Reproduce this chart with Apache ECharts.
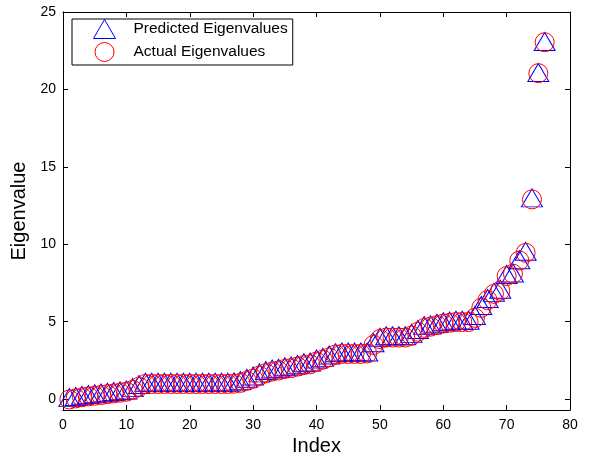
<!DOCTYPE html>
<html>
<head>
<meta charset="utf-8">
<script src="https://cdn.jsdelivr.net/npm/echarts@6/dist/echarts.min.js"></script>
<style>
  html, body { margin: 0; padding: 0; background: #fff; }
  #chart { width: 589px; height: 457px; }
</style>
</head>
<body>
<div id="chart"></div>
<script>
// Eigenvalue index (1..76)
const indices = [
  1, 2, 3, 4, 5, 6, 7, 8, 9, 10, 11, 12, 13, 14, 15, 16, 17, 18, 19, 20,
  21, 22, 23, 24, 25, 26, 27, 28, 29, 30, 31, 32, 33, 34, 35, 36, 37, 38, 39, 40,
  41, 42, 43, 44, 45, 46, 47, 48, 49, 50, 51, 52, 53, 54, 55, 56, 57, 58, 59, 60,
  61, 62, 63, 64, 65, 66, 67, 68, 69, 70, 71, 72, 73, 74, 75, 76
];

// Predicted eigenvalues (sorted ascending)
const predicted = [
  0.00, 0.08, 0.15, 0.20, 0.25, 0.30, 0.35, 0.40, 0.45, 0.50, 0.65, 0.85, 1.00, 1.00, 1.00, 1.00, 1.00, 1.00, 1.00, 1.00,
  1.00, 1.00, 1.00, 1.00, 1.00, 1.00, 1.02, 1.10, 1.25, 1.40, 1.60, 1.75, 1.85, 1.90, 2.00, 2.05, 2.15, 2.25, 2.30, 2.50,
  2.60, 2.75, 2.90, 2.95, 2.95, 2.95, 2.95, 2.95, 3.55, 3.90, 4.00, 4.00, 4.00, 4.00, 4.15, 4.40, 4.65, 4.70, 4.80, 4.90,
  4.95, 5.00, 5.00, 5.00, 5.30, 5.95, 6.40, 6.80, 7.00, 7.95, 8.05, 8.90, 9.45, 12.90, 21.00, 23.00
];

// Actual eigenvalues (sorted ascending)
const actual = [
  -0.02, 0.05, 0.12, 0.18, 0.22, 0.27, 0.32, 0.37, 0.42, 0.48, 0.60, 0.80, 0.98, 0.98, 0.98, 0.98, 0.98, 0.98, 0.98, 0.98,
  0.98, 0.98, 0.98, 0.98, 0.98, 0.98, 1.00, 1.05, 1.18, 1.32, 1.52, 1.68, 1.78, 1.85, 1.95, 2.00, 2.10, 2.20, 2.25, 2.42,
  2.55, 2.70, 2.88, 2.92, 2.92, 2.92, 2.92, 2.95, 3.50, 3.88, 3.98, 3.98, 3.98, 3.98, 4.10, 4.35, 4.60, 4.68, 4.78, 4.88,
  4.93, 4.98, 4.98, 4.98, 5.25, 5.90, 6.40, 6.80, 7.00, 7.95, 8.10, 8.95, 9.45, 12.90, 21.05, 23.05
];

// Axis tick values
const xTicks = [0, 10, 20, 30, 40, 50, 60, 70, 80];
const yTicks = [0, 5, 10, 15, 20, 25];

const FONT = '"Liberation Sans", Arial, Helvetica, sans-serif';
const BLUE = '#0000ff';
const RED = '#ff0000';

const predictedPts = indices.map((x, i) => [x, predicted[i]]);
const actualPts = indices.map((x, i) => [x, actual[i]]);

const boxAxisX = (position, showLabel, name) => ({
  type: 'value',
  position: position,
  min: 0,
  max: 80,
  interval: 10,
  name: name,
  nameLocation: 'middle',
  nameGap: 26,
  nameTextStyle: { color: '#000', fontFamily: FONT, fontSize: 20 },
  axisLine: { show: true, onZero: false, lineStyle: { color: '#000', width: 1 } },
  axisTick: { show: true, inside: true, length: 5, customValues: xTicks, lineStyle: { color: '#000' } },
  axisLabel: { show: showLabel, color: '#000', fontFamily: FONT, fontSize: 14, margin: 8, customValues: xTicks },
  splitLine: { show: false }
});

const boxAxisY = (position, showLabel, name) => ({
  type: 'value',
  position: position,
  min: -0.7,
  max: 25,
  name: name,
  nameLocation: 'middle',
  nameGap: 23,
  nameRotate: 90,
  nameTextStyle: { color: '#000', fontFamily: FONT, fontSize: 20 },
  axisLine: { show: true, onZero: false, lineStyle: { color: '#000', width: 1 } },
  axisTick: { show: true, inside: true, length: 5, customValues: yTicks, lineStyle: { color: '#000' } },
  axisLabel: { show: showLabel, color: '#000', fontFamily: FONT, fontSize: 14, margin: 7, customValues: yTicks },
  splitLine: { show: false }
});

const chart = echarts.init(document.getElementById('chart'), null, { renderer: 'canvas' });

chart.setOption({
  animation: false,
  backgroundColor: '#fff',
  grid: { left: 63, right: 19, top: 12, bottom: 47, containLabel: false, outerBoundsMode: 'none' },
  xAxis: [
    boxAxisX('bottom', true, 'Index'),
    boxAxisX('top', false, '')
  ],
  yAxis: [
    boxAxisY('left', true, 'Eigenvalue'),
    boxAxisY('right', false, '')
  ],
  legend: {
    orient: 'vertical',
    left: 72,
    top: 19,
    itemWidth: 22,
    itemHeight: 19,
    itemGap: 3,
    padding: [0, 5, 3, 21],
    backgroundColor: '#fff',
    borderColor: '#000',
    borderWidth: 1,
    borderRadius: 0,
    selectedMode: false,
    textStyle: { color: '#000', fontFamily: FONT, fontSize: 15.5, padding: [0, 0, 0, 13] },
    data: [
      { name: 'Predicted Eigenvalues', icon: 'triangle',
        itemStyle: { color: 'rgba(0,0,0,0)', borderColor: BLUE, borderWidth: 1 } },
      { name: 'Actual Eigenvalues', icon: 'circle',
        itemStyle: { color: 'rgba(0,0,0,0)', borderColor: RED, borderWidth: 1 } }
    ]
  },
  series: [
    {
      name: 'Predicted Eigenvalues',
      type: 'scatter',
      xAxisIndex: 0,
      yAxisIndex: 0,
      data: predictedPts,
      symbol: 'triangle',
      symbolSize: [21, 18],
      symbolOffset: [0, -1.5],
      silent: true,
      itemStyle: { color: 'rgba(0,0,0,0)', borderColor: BLUE, borderWidth: 1, opacity: 1 }
    },
    {
      name: 'Actual Eigenvalues',
      type: 'scatter',
      xAxisIndex: 0,
      yAxisIndex: 0,
      data: actualPts,
      symbol: 'circle',
      symbolSize: 19,
      silent: true,
      itemStyle: { color: 'rgba(0,0,0,0)', borderColor: RED, borderWidth: 1, opacity: 1 }
    }
  ]
});
</script>
</body>
</html>
